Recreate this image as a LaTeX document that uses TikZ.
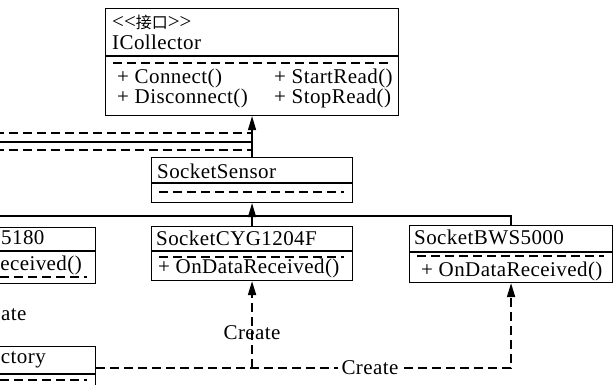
\documentclass[tikz,border=0pt]{standalone}
\usepackage{fontspec}
\setmainfont{Liberation Serif}[LetterSpace=2]
\newfontfamily\cjk{Noto Sans CJK SC}
\usetikzlibrary{arrows.meta,calc}

\begin{document}
\begin{tikzpicture}[x=1pt, y=-1pt,
  font=\fontsize{21}{24}\selectfont,
  cls/.style={draw, line width=1.1pt, anchor=north west, inner sep=0pt},
  txt/.style={anchor=west, inner sep=0pt},
  sep/.style={line width=1.1pt},
  dsh/.style={line width=1.9pt, dash pattern=on 9pt off 5pt},
  inh/.style={line width=1.3pt},
  tip/.style={-{Triangle[length=14pt,width=8pt]}}
]
\useasboundingbox (0,0) rectangle (613,385);
\clip (0,0) rectangle (613,385);

% class boxes
\node[cls, minimum width=293pt, minimum height=107pt] (icol) at (105,8) {};
\node[cls, minimum width=201pt, minimum height=45pt] (ssens) at (151,157) {};
\node[cls, minimum width=201pt, minimum height=54pt] (scyg) at (151,226) {};
\node[cls, minimum width=203pt, minimum height=57pt] (sbws) at (409,225) {};
\node[cls, minimum width=215pt, minimum height=56pt] (lbox) at (-120,227) {};
\node[cls, minimum width=215pt, minimum height=42pt] (fac) at (-120,346) {};

% separators and dashed compartments
\foreach \b/\s/\d in {icol/48/55, ssens/26/35, scyg/25/31, sbws/27/31, lbox/24/50, fac/28/34} {
  \draw[sep] ($(\b.north west)+(0,\s)$) -- ($(\b.north east)+(0,\s)$);
  \draw[dsh] ($(\b.north west)+(8,\d)$) -- ($(\b.north east)+(-9,\d)$);
}

% texts
\node[txt] (icolst) at (112,22) {<\kern0pt<{\cjk\fontsize{16}{20}\selectfont 接口}>\kern0pt>};
\node[txt] (icolnm) at (112,42) {ICollector};
\node[txt] (mconn) at (117,78) {+ Connect()};
\node[txt] (mdisc) at (117,98) {+ Disconnect()};
\node[txt] (mstart) at (274,78) {+ StartRead()};
\node[txt] (mstop) at (274,98) {+ StopRead()};
\node[txt] (ssensnm) at (157,171) {SocketSensor};
\node[txt] (scygnm) at (156,238) {SocketCYG1204F};
\node[txt] (scygm) at (158,268) {+ OnDataReceived()};
\node[txt] (sbwsnm) at (414,237) {SocketBWS5000};
\node[txt] (sbwsm) at (421,271) {+ OnDataReceived()};
\node[txt, anchor=west] (lboxnm) at (1,238) {5180};
\node[txt, anchor=east] (lboxm) at (82,265) {eceived()};
\node[txt, anchor=east] (facnm) at (46,360) {ctory};
\node[txt, anchor=west] (lcreate) at (1,315) {ate};

% realisation / inheritance
\coordinate (ra) at (-5,133);
\coordinate (rb) at (-5,142);
\coordinate (rc) at (-5,150);
\coordinate (gw) at (-5,216);
\draw[dsh] (ra) -- (ra -| ssens.north);
\draw[inh] (rb) -- (rb -| ssens.north);
\draw[dsh] (rc) -- (rc -| ssens.north);
\draw[inh, tip] (ssens.north) -- (icol.south);
\draw[inh, tip] (scyg.north) -- (ssens.south);
\draw[inh] (gw) -| (sbws.north);

% factory
\draw[dsh, tip] (fac.east) -- node[pos=0.66, fill=white, inner sep=4pt] (c2) {Create}
  (fac.east -| sbws.south) -- (sbws.south);
\draw[dsh, tip] (fac.east -| scyg.south) -- node[pos=0.4] (c1) {Create} (scyg.south);
\end{tikzpicture}
\end{document}
